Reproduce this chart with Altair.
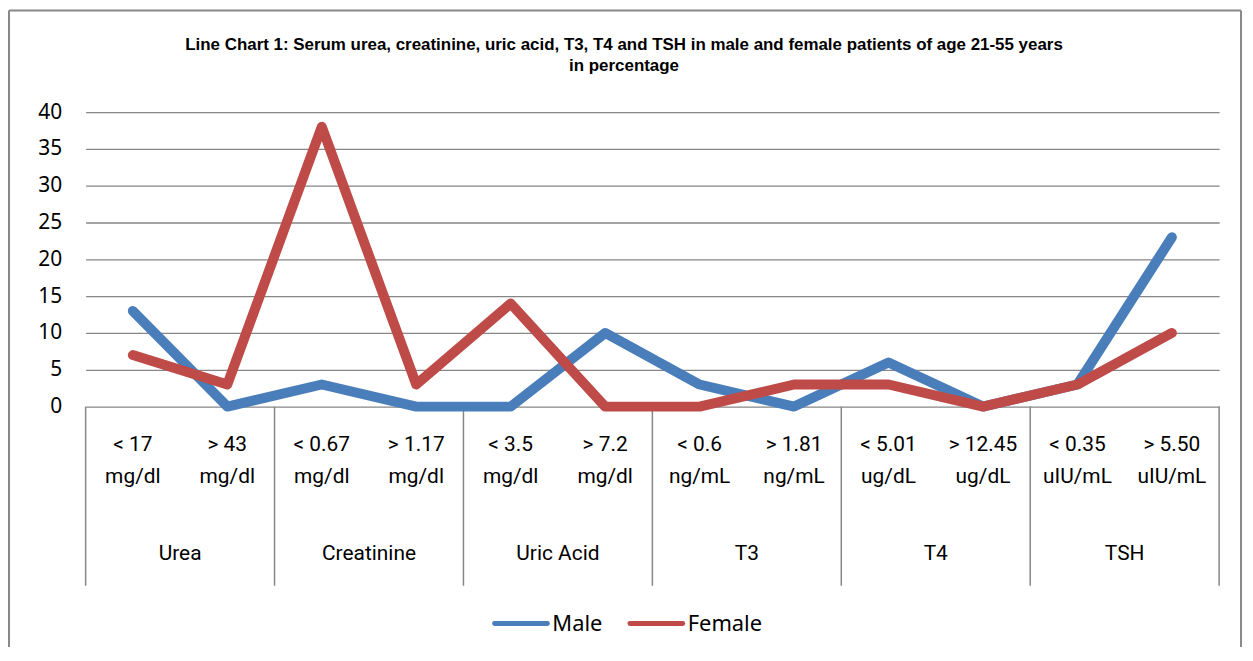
import altair as alt
import pandas as pd

groups = ["Urea", "Creatinine", "Uric Acid", "T3", "T4", "TSH"]
sub_top = ["< 17", "> 43", "< 0.67", "> 1.17", "< 3.5", "> 7.2",
           "< 0.6", "> 1.81", "< 5.01", "> 12.45", "< 0.35", "> 5.50"]
sub_bottom = ["mg/dl", "mg/dl", "mg/dl", "mg/dl", "mg/dl", "mg/dl",
              "ng/mL", "ng/mL", "ug/dL", "ug/dL", "uIU/mL", "uIU/mL"]
male = [13, 0, 3, 0, 0, 10, 3, 0, 6, 0, 3, 23]
female = [7, 3, 38, 3, 14, 0, 0, 3, 3, 0, 3, 10]
series = ["Male", "Female"]
colors = ["#4A7EBB", "#BE4B48"]
title_lines = ["Line Chart 1: Serum urea, creatinine, uric acid, T3, T4 and TSH in male and female patients of age 21-55 years",
               "in percentage"]

n = len(sub_top)
rows = []
for s, vals in zip(series, [male, female]):
    for i in range(n):
        rows.append({"pos": i + 0.5, "series": s, "value": vals[i]})
df = pd.DataFrame(rows)

lab = pd.DataFrame({"pos": [i + 0.5 for i in range(n)],
                    "lbl": [a + "|" + b for a, b in zip(sub_top, sub_bottom)]})
grp = pd.DataFrame({"pos": [2 * g + 1 for g in range(len(groups))], "grp": groups})
sep = pd.DataFrame({"b": [2 * g for g in range(len(groups) + 1)]})
title_df = pd.DataFrame({"t": ["|".join(title_lines)]})

W, H = 1139, 296
FONT = "Roboto"
GRID = "#868686"

xs = alt.Scale(domain=[0, n], nice=False, zero=False)

lines = alt.Chart(df).mark_line(strokeWidth=10, strokeCap="round", strokeJoin="round").encode(
    x=alt.X("pos:Q", scale=xs, axis=None),
    y=alt.Y("value:Q", scale=alt.Scale(domain=[0, 40]),
            axis=alt.Axis(values=list(range(0, 41, 5)), title=None, domain=False, ticks=False,
                          grid=True, gridColor=GRID, gridWidth=1.3, labelFontSize=21,
                          labelFont="Noto Sans", labelColor="#000000", labelPadding=24)),
    color=alt.Color("series:N", scale=alt.Scale(domain=series, range=colors), legend=None),
)

seps = alt.Chart(sep).mark_rule(color=GRID, strokeWidth=1.5).encode(
    x=alt.X("b:Q", scale=xs, axis=None), y=alt.value(H), y2=alt.value(H + 180))

sublab = alt.Chart(lab).mark_text(fontSize=21, font=FONT, baseline="middle", lineHeight=32,
                                  lineBreak="|", color="#000000").encode(
    x=alt.X("pos:Q", scale=xs, axis=None), y=alt.value(H + 39), text="lbl:N")

grplab = alt.Chart(grp).mark_text(fontSize=21, font=FONT, baseline="middle", color="#000000").encode(
    x=alt.X("pos:Q", scale=xs, axis=None), y=alt.value(H + 148), text="grp:N")

title = alt.Chart(title_df).mark_text(fontSize=17, font="Liberation Sans", fontWeight="bold",
                                      baseline="middle", lineHeight=21, lineBreak="|",
                                      color="#000000").encode(
    x=alt.value(541), y=alt.value(-67), text="t:N")

# outer frame
fd = pd.DataFrame({"f": [0]})
frame = [
    alt.Chart(fd).mark_rule(color="#888888", strokeWidth=2).encode(
        x=alt.value(-77), x2=alt.value(1161), y=alt.value(-102)),
    alt.Chart(fd).mark_rule(color="#888888", strokeWidth=2).encode(
        x=alt.value(-77), y=alt.value(-102), y2=alt.value(560)),
    alt.Chart(fd).mark_rule(color="#888888", strokeWidth=2).encode(
        x=alt.value(1161), y=alt.value(-102), y2=alt.value(560)),
]

layers = frame + [seps, lines, sublab, grplab, title]

# legend
lx = [411, 547]
for s, c, x0 in zip(series, colors, lx):
    ld = pd.DataFrame({"s": [s]})
    layers.append(alt.Chart(ld).mark_rule(color=c, strokeWidth=5, strokeCap="round").encode(
        x=alt.value(x0), x2=alt.value(x0 + 53), y=alt.value(H + 218)))
    layers.append(alt.Chart(ld).mark_text(fontSize=22, font="Noto Sans", align="left", baseline="middle",
                                          color="#000000").encode(
        x=alt.value(x0 + 58), y=alt.value(H + 218), text="s:N"))

chart = alt.layer(*layers).properties(
    width=W, height=H,
    autosize=alt.AutoSizeParams(type="none"),
    padding={"left": 78, "top": 103, "right": 26, "bottom": 240},
).configure_view(stroke=None)

chart.save("out.html", embed_options={"renderer": "svg", "actions": False})
